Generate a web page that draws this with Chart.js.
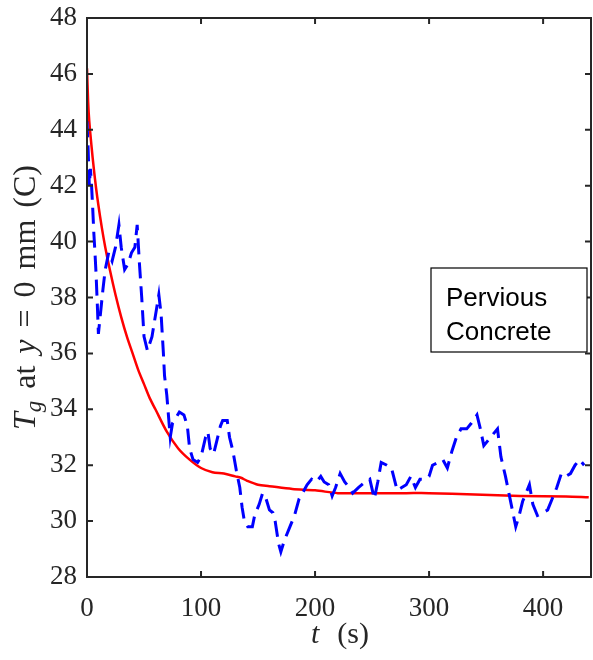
<!DOCTYPE html>
<html>
<head>
<meta charset="utf-8">
<script src="https://cdn.jsdelivr.net/npm/chart.js@4.4.1/dist/chart.umd.min.js"></script>
<style>
  html, body { margin: 0; padding: 0; background: #fff; }
  #wrap { width: 593px; height: 660px; }
</style>
</head>
<body>
<div id="wrap"><canvas id="tgChart"></canvas></div>
<script>
// measured ground temperature (dashed blue)
const tMeasured = [0, 1, 2, 3, 4, 5, 6, 7, 8, 9, 10, 12, 14, 16, 19, 22, 25, 28, 30, 33, 36, 39, 42, 44, 46, 48, 50, 53, 57, 61, 63, 65, 67, 68, 70, 72, 73, 75, 78, 81, 85, 88, 90, 93, 97, 100, 104, 106, 108, 111, 114, 117, 119, 123, 125, 128, 131, 134, 136, 138, 141, 145, 147, 151, 154, 157, 160, 163, 165, 168, 170, 173, 178, 182, 186, 189, 193, 197, 201, 205, 208, 212, 215, 218, 222, 226, 230, 233, 238, 244, 248, 252, 255, 258, 263, 267, 272, 276, 280, 284, 288, 292, 296, 300, 303, 308, 312, 316, 320, 324, 328, 333, 337, 342, 345, 348, 352, 356, 360, 363, 367, 370, 373, 376, 379, 382, 385, 388, 391, 395, 400, 404, 408, 412, 416, 420, 424, 428, 432, 436];
const tempMeasured = [44.3, 43.3, 42.0, 42.6, 42.0, 41.2, 40.3, 39.6, 38.8, 37.8, 36.7, 37.5, 38.3, 39.0, 39.6, 39.3, 39.8, 40.6, 39.8, 39.0, 39.2, 39.6, 39.8, 40.6, 39.2, 38.0, 36.6, 36.1, 36.6, 37.6, 38.1, 37.4, 36.0, 35.2, 34.5, 33.5, 33.0, 33.5, 33.7, 33.9, 33.8, 33.4, 32.6, 32.2, 32.1, 32.3, 33.0, 33.2, 32.6, 32.4, 32.9, 33.4, 33.6, 33.6, 33.0, 32.5, 31.8, 31.2, 30.5, 30.0, 29.8, 29.8, 30.2, 30.6, 31.0, 30.8, 30.4, 30.3, 30.0, 29.2, 28.9, 29.3, 29.8, 30.2, 30.8, 31.0, 31.3, 31.5, 31.4, 31.6, 31.4, 31.3, 30.9, 31.2, 31.7, 31.4, 31.2, 31.0, 31.2, 31.4, 31.5, 30.8, 31.4, 32.1, 32.0, 31.9, 31.1, 31.2, 31.3, 31.6, 31.2, 31.5, 31.5, 31.6, 32.0, 32.1, 32.2, 31.9, 32.5, 33.0, 33.3, 33.3, 33.5, 33.8, 33.3, 32.7, 32.9, 33.1, 33.3, 32.3, 31.6, 31.0, 30.4, 29.8, 30.2, 30.7, 31.0, 31.3, 30.6, 30.2, 30.3, 30.4, 30.8, 31.2, 31.7, 31.6, 31.7, 32.0, 32.2, 32.0];

// model curve (solid red)
const tModel = [0, 1, 2, 4, 6, 8, 10, 13, 16, 20, 25, 30, 35, 40, 45, 50, 55, 60, 70, 80, 90, 100, 110, 120, 130, 135, 140, 150, 160, 180, 200, 220, 240, 260, 280, 300, 340, 380, 420, 440];
const tempModel = [46.2, 45.0, 44.3, 43.4, 42.6, 41.9, 41.3, 40.5, 39.8, 39.0, 38.1, 37.3, 36.6, 36.0, 35.4, 34.9, 34.4, 34.0, 33.2, 32.6, 32.2, 31.9, 31.75, 31.7, 31.6, 31.55, 31.45, 31.3, 31.25, 31.15, 31.1, 31.0, 31.0, 31.0, 31.0, 31.0, 30.95, 30.9, 30.88, 30.85];

const xTicks = [0, 100, 200, 300, 400];
const yTicks = [28, 30, 32, 34, 36, 38, 40, 42, 44, 46, 48];
const noteLines = ['Pervious', 'Concrete'];

const axisColor = '#262626';
const serif = '"Liberation Serif", "DejaVu Serif", serif';
const it = size => 'italic ' + size + 'px ' + serif;
const rm = size => size + 'px ' + serif;

const toPoints = (xs, ys) => xs.map((x, i) => ({x: x, y: ys[i]}));

// text pieces: [text, font, baseline shift, gap after (weight)]
function drawParts(ctx, parts, cx, baseY, targetWidth) {
  let natural = 0, gaps = 0;
  parts.forEach(p => { ctx.font = p[1]; natural += ctx.measureText(p[0]).width; gaps += p[3]; });
  const unit = gaps ? Math.max(0, targetWidth - natural) / gaps : 0;
  let x = cx - (natural + unit * gaps) / 2;
  ctx.textAlign = 'left';
  parts.forEach(p => {
    ctx.font = p[1];
    ctx.fillText(p[0], x, baseY + p[2]);
    x += ctx.measureText(p[0]).width + unit * p[3];
  });
}

// MATLAB-like box with inward ticks, axis titles and the text box
const matlabAxes = {
  id: 'matlabAxes',
  afterDatasetsDraw(chart) {
    const ctx = chart.ctx;
    const a = chart.chartArea;
    const xs = chart.scales.x, ys = chart.scales.y;
    const tl = 6;
    ctx.save();
    ctx.strokeStyle = axisColor;
    ctx.lineWidth = 2;
    ctx.strokeRect(a.left, a.top, a.right - a.left, a.bottom - a.top);
    ctx.beginPath();
    xTicks.forEach(v => {
      const px = xs.getPixelForValue(v);
      ctx.moveTo(px, a.bottom); ctx.lineTo(px, a.bottom - tl);
      ctx.moveTo(px, a.top); ctx.lineTo(px, a.top + tl);
    });
    yTicks.forEach(v => {
      const py = ys.getPixelForValue(v);
      ctx.moveTo(a.left, py); ctx.lineTo(a.left + tl, py);
      ctx.moveTo(a.right, py); ctx.lineTo(a.right - tl, py);
    });
    ctx.stroke();

    ctx.fillStyle = axisColor;
    ctx.textBaseline = 'alphabetic';
    // x title: t (s)
    drawParts(ctx, [['t', it(30), 0, 1], ['(s)', rm(30), 0, 0]], (a.left + a.right) / 2 + 1, 643, 58);

    // y title: T_g at y = 0 mm (C), rotated
    ctx.save();
    ctx.translate(35, (a.top + a.bottom) / 2);
    ctx.rotate(-Math.PI / 2);
    drawParts(ctx, [
      ['T', it(32), 0, 0],
      ['g', it(23), 6, 1],
      ['at', rm(32), 0, 1],
      ['y', it(32), 0, 1],
      ['=', rm(32), 0, 1],
      ['0', rm(32), 0, 1],
      ['mm', rm(32), 0, 1],
      ['(C)', rm(32), 0, 0]
    ], 0, 0, 265);
    ctx.restore();

    // text box
    const bx = 431, by = 268, bw = 156, bh = 84;
    ctx.fillStyle = '#fff';
    ctx.fillRect(bx, by, bw, bh);
    ctx.strokeStyle = '#000';
    ctx.lineWidth = 1.2;
    ctx.strokeRect(bx, by, bw, bh);
    ctx.fillStyle = '#000';
    ctx.font = '26px "Liberation Sans", Arial, sans-serif';
    ctx.textAlign = 'left';
    ctx.fillText(noteLines[0], bx + 15, by + 38);
    ctx.fillText(noteLines[1], bx + 15, by + 72);
    ctx.restore();
  }
};

new Chart(document.getElementById('tgChart').getContext('2d'), {
  type: 'line',
  data: {
    datasets: [{
      label: 'Measured',
      data: toPoints(tMeasured, tempMeasured),
      borderColor: 'rgb(0,0,255)',
      borderWidth: 3,
      borderDash: [16, 8],
      pointRadius: 0,
      tension: 0,
      fill: false
    }, {
      label: 'Model',
      data: toPoints(tModel, tempModel),
      borderColor: 'rgb(255,0,0)',
      borderWidth: 2.5,
      pointRadius: 0,
      tension: 0.3,
      fill: false
    }]
  },
  options: {
    responsive: true,
    maintainAspectRatio: false,
    animation: false,
    layout: {padding: {top: 18, right: 2, left: 0, bottom: 0}},
    plugins: {legend: {display: false}, tooltip: {enabled: false}},
    scales: {
      x: {
        type: 'linear',
        min: 0,
        max: 442,
        afterBuildTicks: s => { s.ticks = xTicks.map(v => ({value: v})); },
        afterFit: s => { s.height = 83; s.paddingLeft = 0; s.paddingRight = 0; },
        grid: {display: false},
        border: {display: false},
        ticks: {color: axisColor, font: {family: serif, size: 27}, padding: 8, maxRotation: 0}
      },
      y: {
        min: 28,
        max: 48,
        afterBuildTicks: s => { s.ticks = yTicks.map(v => ({value: v})); },
        afterFit: s => { s.width = 87; s.paddingTop = 0; s.paddingBottom = 0; },
        grid: {display: false},
        border: {display: false},
        ticks: {color: axisColor, font: {family: serif, size: 27}, padding: 2}
      }
    }
  },
  plugins: [matlabAxes]
});
</script>
</body>
</html>
